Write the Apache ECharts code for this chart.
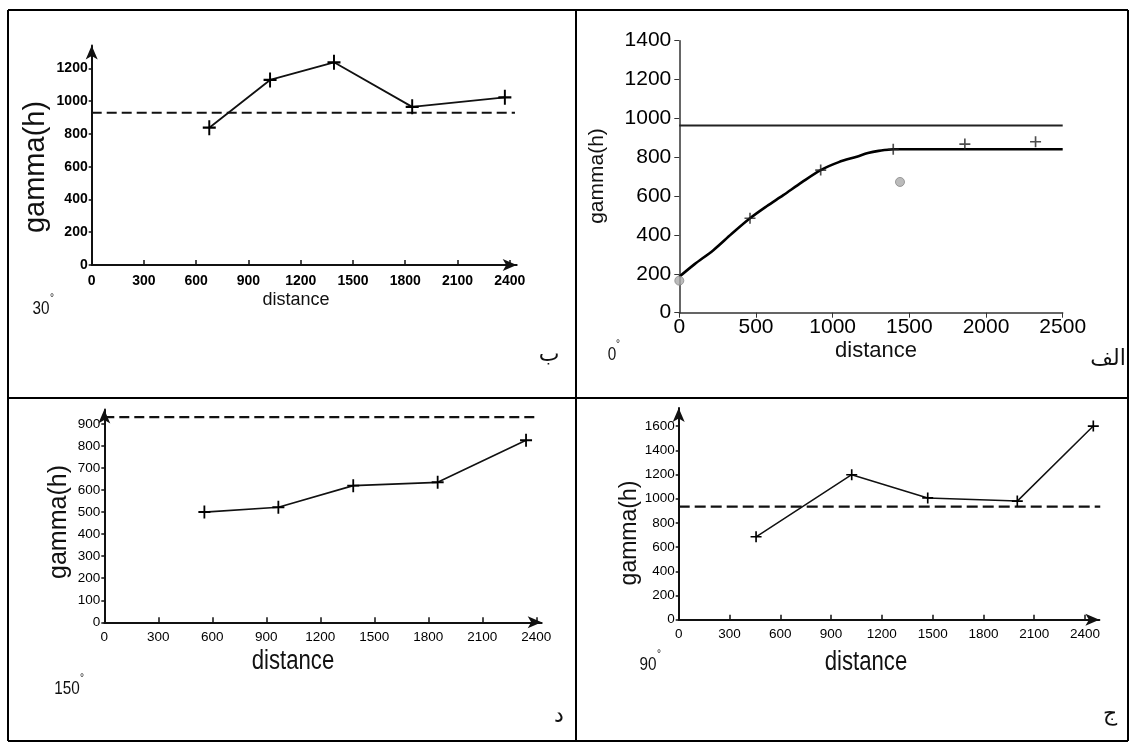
<!DOCTYPE html>
<html><head><meta charset="utf-8">
<script src="https://cdn.jsdelivr.net/npm/echarts@6/dist/echarts.min.js"></script>
<style>html,body{margin:0;padding:0;background:#fff}#c{width:1136px;height:743px}</style>
</head><body><div id="c"></div>
<script>
// ---------- DATA ----------
// Panel "ب" (30°)
const dist30 = [675, 1024, 1391, 1840, 2372];
const gamma30 = [838, 1129, 1237, 965, 1023];
const sill30 = 929;
const sillEnd30 = 2430;
// Panel "الف" (0°)
const dist0 = [461, 922, 1395, 1862, 2323];
const gamma0 = [486, 734, 841, 868, 880];
const outlierDist0 = [0, 1439];
const outlierGamma0 = [165, 673];
const modelDist0 = [0, 100, 222, 340, 461, 570, 678, 800, 922, 1040, 1157, 1230, 1300, 1395];
const modelGamma0 = [185, 250, 322, 405, 486, 548, 605, 672, 734, 775, 803, 822, 833, 841];
const modelSill0 = 841;
const variance0 = 964;
const xEnd0 = 2500;
// Panel "د" (150°)
const dist150 = [556, 967, 1383, 1852, 2343];
const gamma150 = [500, 522, 620, 635, 826];
const sill150 = 931;
const sillEnd150 = 2390;
// Panel "ج" (90°)
const dist90 = [457, 1022, 1471, 2000, 2449];
const gamma90 = [685, 1198, 1006, 980, 1600];
const sill90 = 934;
const sillEnd90 = 2490;
// Tick labels
const xTicks300 = [0, 300, 600, 900, 1200, 1500, 1800, 2100, 2400];
const xTicks500 = [0, 500, 1000, 1500, 2000, 2500];
const yTicks30 = [0, 200, 400, 600, 800, 1000, 1200];
const yTicks0 = [0, 200, 400, 600, 800, 1000, 1200, 1400];
const yTicks150 = [0, 100, 200, 300, 400, 500, 600, 700, 800, 900];
const yTicks90 = [0, 200, 400, 600, 800, 1000, 1200, 1400, 1600];
// Texts
const xName = 'distance';
const yName = 'gamma(h)';
const panelLetters = ['ب', 'الف', 'د', 'ج'];
const panelAngles = ['30', '0', '150', '90'];

// ---------- CHART ----------
const pairs = (xs, ys) => xs.map((x, i) => [x, ys[i]]);
const PLUS = 'path://M4.25,0H5.75V4.25H10V5.75H5.75V10H4.25V5.75H0V4.25H4.25Z';
const SANS = "'Liberation Sans',Arial,sans-serif";
const plain = v => String(v);

function axisCfg(gi, max, ticks, o, isX) {
  return {
    gridIndex: gi, type: 'value', min: 0, max: max,
    axisLine: { show: true, onZero: false, lineStyle: { color: o.color, width: o.lw },
      symbol: o.arrow ? ['none', 'arrow'] : ['none', 'none'], symbolSize: [9, 14] },
    axisTick: { show: true, inside: isX ? o.tickInside : false, length: o.tickLen, customValues: ticks,
      lineStyle: { color: o.color, width: o.tickW || 1.5 } },
    axisLabel: { customValues: ticks, formatter: plain, fontFamily: SANS, fontSize: o.fs,
      fontWeight: o.fw || 'normal', color: '#000', margin: o.margin },
    splitLine: { show: false }
  };
}

const scanX = { color: '#111', lw: 2, arrow: true, tickInside: true, tickLen: 5, fs: 13.5, margin: 9 };
const scanY = { color: '#111', lw: 2, arrow: true, tickLen: 3, fs: 13.5, margin: 4 };
const cleanX = { color: '#333', lw: 1.5, arrow: false, tickInside: false, tickLen: 5, fs: 21, margin: 4, tickW: 1 };
const cleanY = { color: '#333', lw: 1.5, arrow: false, tickLen: 5, fs: 21, margin: 8, tickW: 1 };

const grids = [
  { left: 91.7, top: 45.4, width: 425, height: 219.6 },
  { left: 679.3, top: 40.7, width: 383.4, height: 272 },
  { left: 104.3, top: 409.6, width: 437.4, height: 212.7 },
  { left: 678.7, top: 407.9, width: 420.7, height: 211.8 }
];

const xAxes = [
  axisCfg(0, 2440, xTicks300, Object.assign({}, scanX, { fw: 'bold', fs: 14 }), true),
  axisCfg(1, xEnd0, xTicks500, cleanX, true),
  axisCfg(2, 2430, xTicks300, Object.assign({}, scanX, { margin: 8 }), true),
  axisCfg(3, 2485, xTicks300, Object.assign({}, scanX, { margin: 8 }), true)
];
const yAxes = [
  axisCfg(0, 1340, yTicks30, Object.assign({}, scanY, { fw: 'bold', fs: 14 }), false),
  axisCfg(1, 1400, yTicks0, cleanY, false),
  axisCfg(2, 965, yTicks150, scanY, false),
  axisCfg(3, 1750, yTicks90, scanY, false)
];

function dashed(gi, y, xEnd, dash) {
  return { type: 'line', xAxisIndex: gi, yAxisIndex: gi, data: [[0, y], [xEnd, y]], symbol: 'none',
    lineStyle: { color: '#111', width: 2.2, type: dash }, z: 2, silent: true };
}
function obs(gi, xs, ys, size, lw) {
  return { type: 'line', xAxisIndex: gi, yAxisIndex: gi, data: pairs(xs, ys), symbol: PLUS,
    symbolSize: size, showSymbol: true, itemStyle: { color: '#000' },
    lineStyle: { color: '#111', width: lw }, z: 3, silent: true };
}

const series = [
  dashed(0, sill30, sillEnd30, [10, 5]),
  obs(0, dist30, gamma30, [13, 15], 1.8),
  // 0° panel
  { type: 'line', xAxisIndex: 1, yAxisIndex: 1, data: [[0, variance0], [xEnd0, variance0]], symbol: 'none',
    lineStyle: { color: '#222', width: 2 }, silent: true },
  { type: 'line', xAxisIndex: 1, yAxisIndex: 1, data: pairs(modelDist0, modelGamma0), symbol: 'none',
    smooth: 0.3, lineStyle: { color: '#000', width: 2.6, join: 'round' }, silent: true },
  { type: 'line', xAxisIndex: 1, yAxisIndex: 1, data: [[modelDist0[modelDist0.length - 1], modelSill0], [xEnd0, modelSill0]],
    symbol: 'none', lineStyle: { color: '#000', width: 2.4 }, silent: true },
  { type: 'scatter', xAxisIndex: 1, yAxisIndex: 1, data: pairs(dist0, gamma0), symbol: PLUS,
    symbolSize: [11, 11], itemStyle: { color: '#222' }, z: 4, silent: true },
  { type: 'scatter', xAxisIndex: 1, yAxisIndex: 1, data: pairs(outlierDist0, outlierGamma0), symbol: 'circle',
    symbolSize: 9, itemStyle: { color: '#aaa', borderColor: '#888', borderWidth: 1 }, z: 5, silent: true },
  // 150°
  dashed(2, sill150, sillEnd150, [10, 5]),
  obs(2, dist150, gamma150, [12, 13], 1.6),
  // 90°
  dashed(3, sill90, sillEnd90, [11, 5]),
  obs(3, dist90, gamma90, [11, 11], 1.5)
];

// Texts & table borders
const g = [];
function line(x1, y1, x2, y2) {
  g.push({ type: 'line', shape: { x1, y1, x2, y2 }, style: { stroke: '#000', lineWidth: 2 }, silent: true });
}
line(8, 10, 1128, 10); line(8, 741, 1128, 741);
line(8, 10, 8, 741); line(1128, 10, 1128, 741);
line(576, 10, 576, 741); line(8, 398, 1128, 398);

function txt(s, x, y, font, rot, sx) {
  const el = { type: 'text', x: x, y: y, style: { text: s, font: font, fill: '#111', align: 'center', verticalAlign: 'middle' }, silent: true };
  if (rot) el.rotation = rot;
  if (sx) { el.scaleX = sx; }
  return el;
}
// axis names
g.push(txt(xName, 296, 300, '18px ' + SANS));
g.push(txt(yName, 36, 167, '29px ' + SANS, Math.PI / 2));
g.push(txt(xName, 876, 351, '22px ' + SANS));
g.push(txt(yName, 597, 176, '21px ' + SANS, Math.PI / 2));
g.push(txt(xName, 293, 662, '27px ' + SANS, 0, 0.82));
g.push(txt(yName, 59, 522, '25px ' + SANS, Math.PI / 2));
g.push(txt(xName, 866, 663, '27px ' + SANS, 0, 0.82));
g.push(txt(yName, 630, 533, '23px ' + SANS, Math.PI / 2));
// angles
const angPos = [[41, 309, 52, 298], [612, 355, 618, 344], [67, 689, 82, 678], [648, 665, 659, 654]];
angPos.forEach((p, i) => {
  g.push(txt(panelAngles[i], p[0], p[1], '18px ' + SANS, 0, 0.85));
  g.push(txt('°', p[2], p[3], '10px ' + SANS));
});
// panel letters
const letPos = [[549, 355], [1108, 359], [559, 716], [1110, 714]];
letPos.forEach((p, i) => g.push(txt(panelLetters[i], p[0], p[1], "22px 'DejaVu Sans',sans-serif")));

const chart = echarts.init(document.getElementById('c'), null, { renderer: 'canvas' });
chart.setOption({
  animation: false,
  backgroundColor: '#fff',
  grid: grids,
  xAxis: xAxes,
  yAxis: yAxes,
  series: series,
  graphic: g
});
</script></body></html>
